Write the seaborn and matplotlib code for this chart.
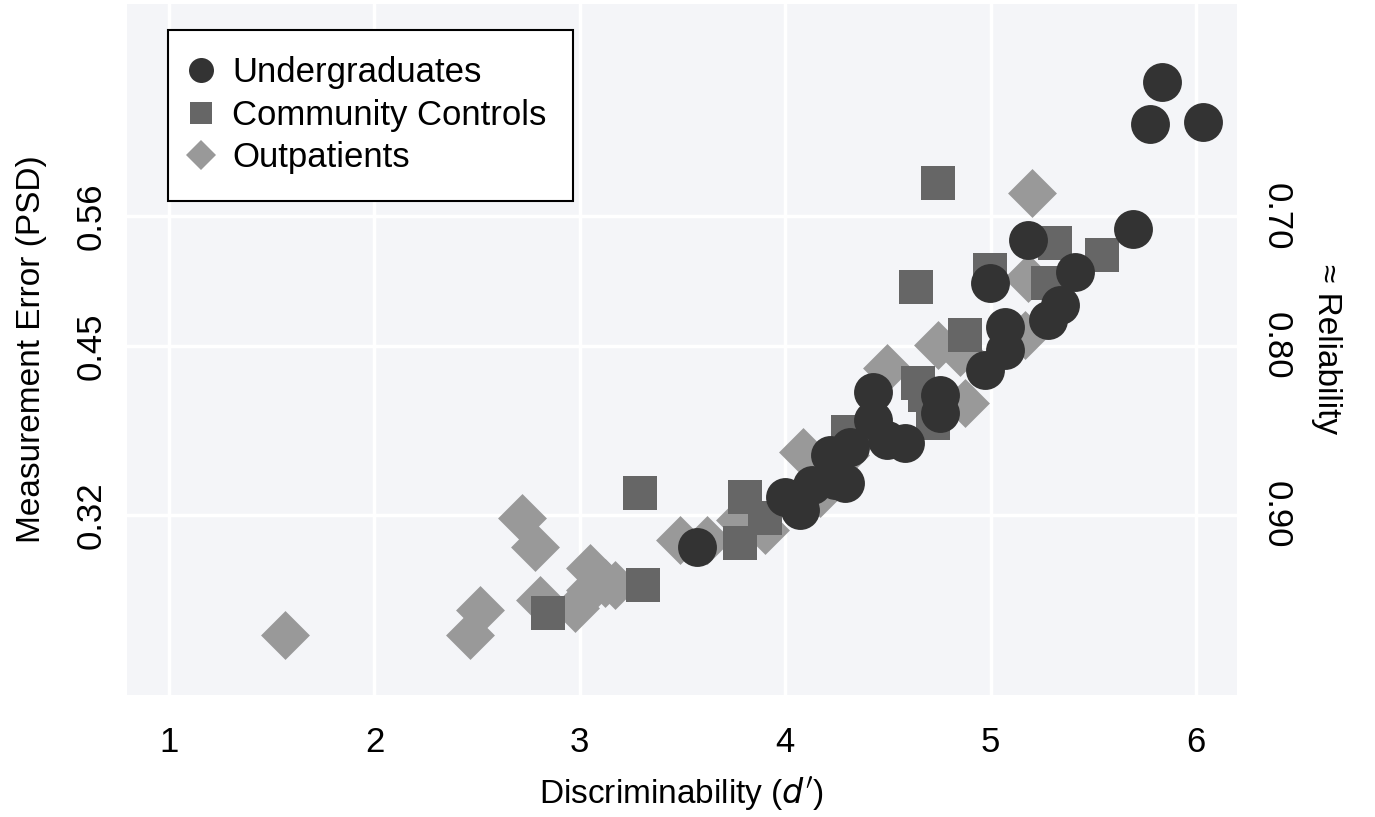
import numpy as np
import pandas as pd
import matplotlib
matplotlib.use("Agg")
import matplotlib.pyplot as plt
from matplotlib.lines import Line2D
import seaborn as sns

# ---- data (x = d', y = PSD) ----
ug_x = [3.571, 3.999, 4.072, 4.130, 4.242, 4.291, 4.218, 4.316, 4.427, 4.427, 4.496, 4.583,
        4.754, 4.754, 4.973, 5.070, 5.070, 4.997, 5.182, 5.279, 5.338, 5.411, 5.693, 5.776,
        5.834, 6.034]
ug_y = [0.2915, 0.3302, 0.3202, 0.3395, 0.3434, 0.3411, 0.3628, 0.3690, 0.4116, 0.3899, 0.3744, 0.3721,
        0.4093, 0.3953, 0.4287, 0.4442, 0.4620, 0.4961, 0.5295, 0.4674, 0.4791, 0.5047, 0.5380, 0.6194,
        0.6519, 0.6209]

cc_x = [4.744, 4.637, 4.997, 5.314, 5.542, 5.279, 4.875, 4.647, 4.681, 4.720, 4.306, 3.804,
        3.902, 3.780, 3.293, 3.308, 2.845]
cc_y = [0.5736, 0.4930, 0.5062, 0.5271, 0.5178, 0.4961, 0.4558, 0.4186, 0.4093, 0.3876, 0.3806, 0.3302,
        0.3140, 0.2946, 0.3333, 0.2620, 0.2403]

op_x = [5.202, 5.182, 5.167, 4.851, 4.744, 4.496, 4.875, 4.169, 4.087, 4.291, 3.902, 3.780,
        3.619, 3.488, 3.050, 3.123, 2.977, 2.806, 3.171, 2.719, 2.782, 2.514, 2.465, 1.565, 3.050]
op_y = [0.5659, 0.5000, 0.4558, 0.4426, 0.4481, 0.4302, 0.4031, 0.3333, 0.3651, 0.3628, 0.3047, 0.3124,
        0.2969, 0.2969, 0.2752, 0.2636, 0.2442, 0.2504, 0.2620, 0.3140, 0.2915, 0.2426, 0.2233, 0.2233, 0.2581]

groups = ["Undergraduates", "Community Controls", "Outpatients"]
x_ticks = [1, 2, 3, 4, 5, 6]
rel_ticks = [0.70, 0.80, 0.90]
psd_labels = ["0.56", "0.45", "0.32"]
rel_labels = ["0.70", "0.80", "0.90"]

df = pd.concat([
    pd.DataFrame({"d": op_x, "psd": op_y, "group": groups[2]}),
    pd.DataFrame({"d": cc_x, "psd": cc_y, "group": groups[1]}),
    pd.DataFrame({"d": ug_x, "psd": ug_y, "group": groups[0]}),
], ignore_index=True)

colors = {groups[0]: "#333333", groups[1]: "#666666", groups[2]: "#999999"}
markers = {groups[0]: "o", groups[1]: "s", groups[2]: "D"}
sizes = {groups[0]: 784, groups[1]: 635, groups[2]: 620}

sns.set_theme(style="darkgrid", rc={"axes.facecolor": "#f4f5f8", "grid.color": "white",
                                    "grid.linewidth": 2.5})
plt.rcParams["font.family"] = ["Liberation Sans", "DejaVu Sans"]
plt.rcParams["text.color"] = "black"
plt.rcParams["axes.labelcolor"] = "black"
plt.rcParams["xtick.color"] = "black"
plt.rcParams["ytick.color"] = "black"

fig = plt.figure(figsize=(13.75, 8.17), dpi=100)
ax = fig.add_axes([127 / 1375, 1 - 695 / 817, 1110 / 1375, 691 / 817])

for g in [groups[2], groups[1], groups[0]]:
    sub = df[df["group"] == g]
    sns.scatterplot(data=sub, x="d", y="psd", ax=ax, marker=markers[g], s=sizes[g],
                    color=colors[g], linewidth=0, alpha=1, legend=False)

ax.set_xlim(0.795, 6.2)
ax.set_ylim(0.1767, 0.7124)
ytick_pos = [np.sqrt(1 - r) for r in rel_ticks]
ax.set_xticks(x_ticks)
ax.set_xticklabels([str(v) for v in x_ticks], fontsize=25)
ax.set_yticks(ytick_pos)
ax.set_yticklabels(psd_labels, fontsize=25, rotation=90, va="center")
ax.tick_params(axis="x", length=0, pad=22)
ax.tick_params(axis="y", length=0, pad=14)
ax.set_xlabel("Discriminability ($d'$)", fontsize=24, labelpad=12)
ax.set_ylabel("Measurement Error (PSD)", fontsize=24, labelpad=20)
for s in ax.spines.values():
    s.set_visible(False)

ax2 = ax.twinx()
ax2.set_ylim(ax.get_ylim())
ax2.set_yticks(ytick_pos)
ax2.set_yticklabels(rel_labels, fontsize=25, rotation=270, va="center")
ax2.tick_params(axis="y", length=0, pad=16)
ax2.grid(False)
ax2.set_ylabel("≈ Reliability", fontsize=24, rotation=270, labelpad=36)
for s in ax2.spines.values():
    s.set_visible(False)

handles = [Line2D([], [], linestyle="none", marker=markers[g], color=colors[g],
                  markersize={"o": 18, "s": 16, "D": 15}[markers[g]], markeredgewidth=0)
           for g in groups]
leg = ax.legend(handles, groups, loc="upper left", bbox_to_anchor=(0.0369, 0.9624),
                borderaxespad=0, fontsize=25, frameon=True, fancybox=False,
                edgecolor="black", framealpha=1, labelspacing=0.28, handlelength=0.4,
                handletextpad=0.7, borderpad=0.75)
leg.get_frame().set_linewidth(1.5)
leg.get_frame().set_facecolor("white")

fig.savefig("out.png", dpi=100)
